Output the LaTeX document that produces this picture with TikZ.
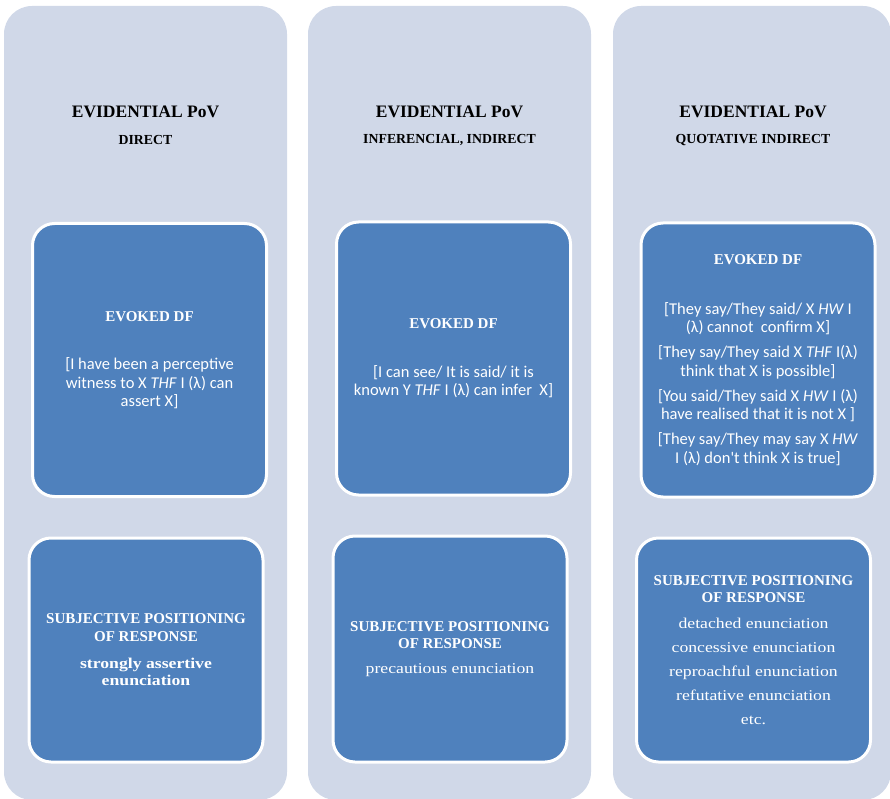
\documentclass[tikz,border=0pt]{standalone}
\usepackage{fontspec}
\setmainfont{Liberation Serif}
\newfontfamily\widefont{Liberation Serif}[FakeStretch=1.18]
\newfontfamily\bodyfont{Carlito}
\definecolor{paleblue}{HTML}{D0D8E8}
\definecolor{boxblue}{HTML}{4F81BD}
\newcommand\dftitle[1]{{\rmfamily\bfseries\fontsize{15}{18}\selectfont #1}}

\begin{document}
\begin{tikzpicture}[x=1pt,y=-1pt,
  column node/.style={fill=paleblue,rounded corners=28pt,minimum height=794pt,inner sep=0pt},
  box node/.style={draw=white,line width=3pt,fill=boxblue,rounded corners=22pt,text=white,
    align=center,inner sep=0pt,minimum width=234pt},
  head node/.style={font=\bfseries\fontsize{17.5}{21}\selectfont},
  sub node/.style={font=\bfseries\fontsize{13.8}{16}\selectfont},
  df node/.style={box node,minimum height=273pt,font=\bodyfont\fontsize{16.5}{18.5}\selectfont},
  sp node/.style={box node,minimum height=224pt,font=\bfseries\fontsize{15}{17.5}\selectfont}]

  \useasboundingbox (0,0) rectangle (890,799);

  % the three columns
  \node[column node,minimum width=283pt] (c1) at (145.5,403) {};
  \node[column node,minimum width=283pt] (c2) at (449.5,403) {};
  \node[column node,minimum width=278pt] (c3) at (752,403) {};

  \node[head node] (h1) at (145.5,112) {EVIDENTIAL PoV};
  \node[sub node]  (s1) at (145.5,140) {DIRECT};
  \node[head node] (h2) at (449.5,112) {EVIDENTIAL PoV};
  \node[sub node]  (s2) at (449.5,140) {INFERENCIAL, INDIRECT};
  \node[head node] (h3) at (753,112) {EVIDENTIAL PoV};
  \node[sub node]  (s3) at (753,140) {QUOTATIVE INDIRECT};

  % evoked DF boxes
  \node[df node] (df1) at (149.5,360) {\dftitle{EVOKED DF}\\[30pt]
    [I have been a perceptive\\witness to X \textit{THF} I (λ) can\\assert X]};
  \node[df node] (df2) at (453.5,358.5) {\dftitle{EVOKED DF}\\[30pt]
    [I can see/ It is said/ it is\\known Y \textit{THF} I (λ) can infer~ X]};
  \node[df node,minimum height=274pt] (df3) at (758,360) {\dftitle{EVOKED DF}\\[31pt]
    [They say/They said/ X \textit{HW} I\\(λ) cannot~ confirm X]\\[6.5pt]
    [They say/They said X \textit{THF} I(λ)\\think that X is possible]\\[6.5pt]
    [You said/They said X \textit{HW} I (λ)\\have realised that it is not X ]\\[6.5pt]
    [They say/They may say X \textit{HW}\\I (λ) don't think X is true]};

  % subjective positioning boxes
  \node[sp node] (sp1) at (146,650) {SUBJECTIVE POSITIONING\\OF RESPONSE\\[9.5pt]
    {\widefont strongly assertive}\\{\widefont enunciation}};
  \node[sp node,minimum height=226pt] (sp2) at (450,649) {SUBJECTIVE POSITIONING\\OF RESPONSE\\[7.5pt]
    {\mdseries\widefont precautious enunciation}};
  \node[sp node] (sp3) at (753.5,650) {SUBJECTIVE POSITIONING\\OF RESPONSE\\[8.5pt]
    {\mdseries\widefont detached enunciation}\\[6.5pt]
    {\mdseries\widefont concessive enunciation}\\[6.5pt]
    {\mdseries\widefont reproachful enunciation}\\[6.5pt]
    {\mdseries\widefont refutative enunciation}\\[6.5pt]
    {\mdseries\widefont etc.}};

\end{tikzpicture}
\end{document}
